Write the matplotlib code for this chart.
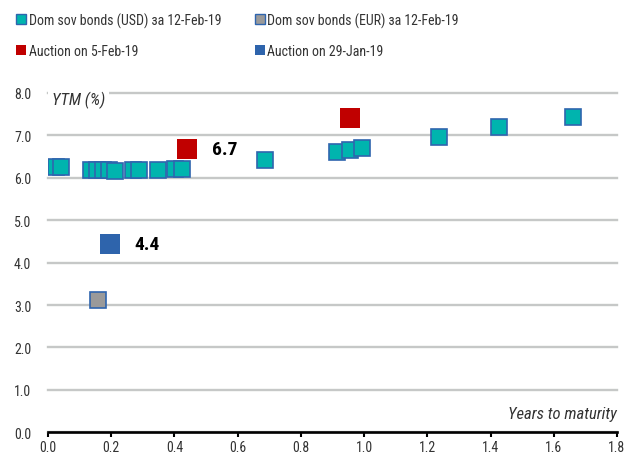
import matplotlib
matplotlib.use('Agg')
import matplotlib.pyplot as plt
from matplotlib.lines import Line2D
from matplotlib import font_manager

# Data (years to maturity, YTM %)

usd_years = [0.024, 0.041, 0.136, 0.154, 0.175, 0.194, 0.212, 0.270, 0.288,
             0.347, 0.402, 0.425, 0.686, 0.913, 0.955, 0.992, 1.238, 1.428, 1.660]
usd_ytm = [6.25, 6.25, 6.19, 6.19, 6.18, 6.18, 6.17, 6.18, 6.18,
           6.18, 6.21, 6.21, 6.41, 6.62, 6.66, 6.70, 6.97, 7.19, 7.43]

eur_years = [0.158]
eur_ytm = [3.11]

feb5_years = [0.441, 0.955]
feb5_ytm = [6.68, 7.41]

jan29_years = [0.195]
jan29_ytm = [4.44]

series_labels = ['Dom sov bonds (USD) за 12-Feb-19', 'Dom sov bonds (EUR) за 12-Feb-19',
                 'Auction on 5-Feb-19', 'Auction on 29-Jan-19']

# colours
teal = '#00B4AE'
edge_blue = '#2F65AE'
grey = '#9A9A9A'
red = '#C00000'
blue = '#2E64AC'
grid_col = '#C6C8C7'
text_col = '#333333'

# narrow font (Arial Narrow look-alike)
names = {f.name for f in font_manager.fontManager.ttflist}
narrow = 'Liberation Sans'
for cand in ['Liberation Sans Narrow', 'Roboto Condensed', 'DejaVu Sans Condensed']:
    if cand in names:
        narrow = cand
        break
plt.rcParams['font.family'] = [narrow, 'DejaVu Sans']

fig = plt.figure(figsize=(6.36, 4.6), dpi=100)
ax = fig.add_axes([0.0755, 0.058, 0.8946, 0.7377])

ax.plot(eur_years, eur_ytm, 's', ms=12, mfc=grey, mec=edge_blue, mew=1.2, zorder=3)
for x, y in zip(usd_years, usd_ytm):
    ax.plot(x, y, 's', ms=12, mfc=teal, mec=edge_blue, mew=1.2, zorder=3)
ax.plot(feb5_years, feb5_ytm, 's', ms=14.5, mfc=red, mec=red, mew=0, zorder=4)
ax.plot(jan29_years, jan29_ytm, 's', ms=14.5, mfc=blue, mec=blue, mew=0, zorder=4)

# value labels for the auctions
ax.annotate('%.1f' % feb5_ytm[0], (feb5_years[0], feb5_ytm[0]), xytext=(18, 0),
            textcoords='offset points', ha='left', va='center',
            fontsize=14, fontweight='bold', color='black')
ax.annotate('%.1f' % jan29_ytm[0], (jan29_years[0], jan29_ytm[0]), xytext=(18, 0),
            textcoords='offset points', ha='left', va='center',
            fontsize=14, fontweight='bold', color='black')

ax.set_xlim(0, 1.8)
ax.set_ylim(0, 8)
ax.set_xticks([i * 0.2 for i in range(10)])
ax.set_yticks(range(9))
ax.xaxis.set_major_formatter(matplotlib.ticker.FormatStrFormatter('%.1f'))
ax.yaxis.set_major_formatter(matplotlib.ticker.FormatStrFormatter('%.1f'))

ax.yaxis.grid(True, color=grid_col, linewidth=1.7, zorder=0)
ax.set_axisbelow(True)
for gl in ax.get_ygridlines():
    gl.set_clip_on(False)
for s in ['top', 'right', 'left']:
    ax.spines[s].set_visible(False)
ax.spines['bottom'].set_linewidth(1.9)
ax.spines['bottom'].set_color('black')
ax.spines['bottom'].set_zorder(5)

ax.tick_params(axis='y', length=0, pad=12, labelsize=10, labelcolor=text_col)
ax.tick_params(axis='x', length=3.5, width=1.5, color='black', pad=2,
               labelsize=10, labelcolor=text_col, direction='out')

ax.text(0.007, 7.84, 'YTM (%)', transform=ax.get_yaxis_transform(), ha='left', va='center',
        fontsize=12, style='italic', color=text_col, zorder=6,
        bbox=dict(facecolor='white', edgecolor='none', pad=3))
ax.text(1.0, 0.45, 'Years to maturity', transform=ax.get_yaxis_transform(), ha='right',
        va='center', fontsize=12, style='italic', color=text_col)

usd_h = Line2D([], [], marker='s', ls='none', ms=7, mfc=teal, mec=edge_blue, mew=1)
eur_h = Line2D([], [], marker='s', ls='none', ms=7, mfc=grey, mec=edge_blue, mew=1)
feb5_h = Line2D([], [], marker='s', ls='none', ms=7.5, mfc=red, mec=red, mew=0)
jan29_h = Line2D([], [], marker='s', ls='none', ms=7.5, mfc=blue, mec=blue, mew=0)
# legend fills column by column, so order it to read across rows
fig.legend([usd_h, feb5_h, eur_h, jan29_h],
           [series_labels[0], series_labels[2], series_labels[1], series_labels[3]],
           loc='upper left', bbox_to_anchor=(0.008, 0.995),
           ncol=2, frameon=False, fontsize=10, handlelength=0.75, handletextpad=0.15,
           labelspacing=1.15, columnspacing=2.4, borderpad=0.3, labelcolor=text_col)

fig.savefig('out.png', dpi=100)
